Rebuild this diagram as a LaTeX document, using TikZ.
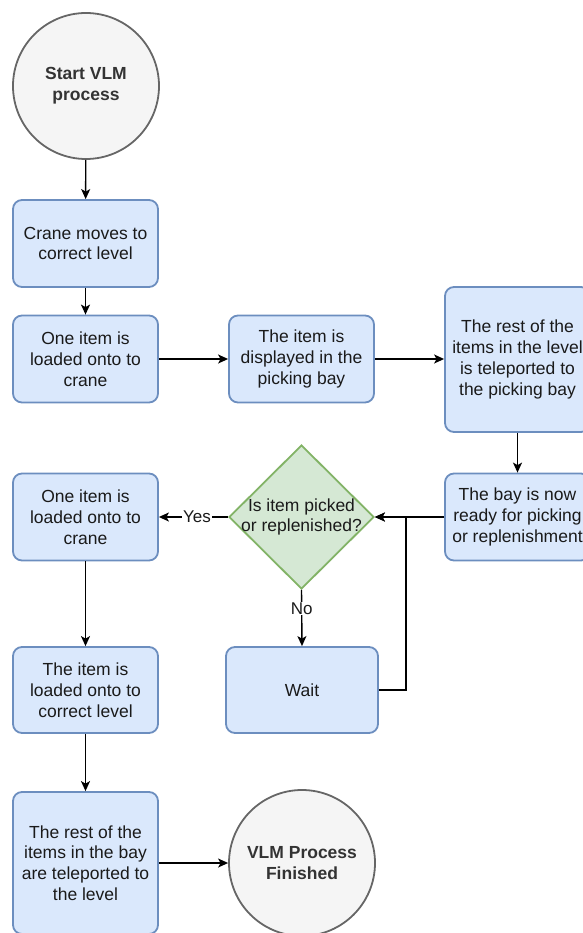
\documentclass[tikz,border=0pt]{standalone}
\usepackage{fontspec}
\setmainfont{Liberation Sans}
\usetikzlibrary{arrows.meta,shapes.geometric,calc}
\definecolor{bfill}{HTML}{DAE8FC}
\definecolor{bline}{HTML}{6C8EBF}
\definecolor{gfill}{HTML}{D5E8D4}
\definecolor{gline}{HTML}{82B366}
\definecolor{cfill}{HTML}{F5F5F5}
\definecolor{cline}{HTML}{666666}
\definecolor{txt}{HTML}{1A1A1A}
\definecolor{ctxt}{HTML}{333333}
\tikzset{
  base/.style={font=\fontsize{17.5}{20.8}\selectfont, text=txt, align=center, inner sep=0pt},
  box/.style={base, draw=bline, fill=bfill, line width=1.8pt, rounded corners=9pt,
              minimum width=145pt, minimum height=87pt},
  term/.style={base, circle, draw=cline, fill=cfill, line width=1.8pt,
              minimum size=146pt, font=\fontsize{17.5}{20.8}\selectfont\bfseries, text=ctxt},
  decision/.style={diamond, draw=gline, fill=gfill, line width=1.8pt, inner sep=0pt,
              minimum width=145pt, minimum height=144pt},
  arr/.style={draw=black, line width=1.4pt, -{Stealth[length=10pt,width=9pt,inset=2.5pt]}},
  lbl/.style={base, fill=white, inner sep=1pt, font=\fontsize{17}{20}\selectfont}
}
\begin{document}
\begin{tikzpicture}[x=1pt,y=-1pt]
\useasboundingbox (0,0) rectangle (582,933);
\node[term] (start) at (86,86) {Start VLM\\process};
\node[box] (crane) at (85.5,243.5) {Crane moves to\\correct level};
\node[box] (load1) at (85.5,359) {One item is\\loaded onto to\\crane};
\node[box] (disp) at (301.5,359) {The item is\\displayed in the\\picking bay};
\node[box, minimum height=145pt] (rest) at (517.5,359.5) {The rest of the\\items in the level\\is teleported to\\the picking bay};
\node[box] (bay) at (517.5,517) {The bay is now\\ready for picking\\or replenishment};
\node[decision] (dec) at (301.5,517) {};
\node[base] (dectxt) at (dec.center) {Is item picked\\or replenished?};
\node[box] (load2) at (85.5,517) {One item is\\loaded onto to\\crane};
\node[box, minimum width=152pt, minimum height=86pt] (wait) at (302,690) {Wait};
\node[box, minimum height=86pt] (load3) at (85.5,690) {The item is\\loaded onto to\\correct level};
\node[box, minimum height=142pt] (restbay) at (85.5,863) {The rest of the\\items in the bay\\are teleported to\\the level};
\node[term] (finish) at (302,863) {VLM Process\\Finished};
\coordinate (jn) at (406,517);

\draw[arr] (start) -- (crane);
\draw[arr] (crane) -- (load1);
\draw[arr] (load1) -- (disp);
\draw[arr] (disp) -- (rest.west |- disp.east);
\draw[arr] (rest) -- (bay);
\draw[arr] (bay.west) -- (dec.east);
\draw[arr] (wait.east) -| (jn) -- (dec.east);
\draw[arr] (dec.west) -- node[lbl, pos=0.45] (yes) {Yes} (load2.east);
\draw[arr] (dec.south) -- node[lbl, pos=0.33] (no) {No} (wait.north);
\draw[arr] (load2) -- (load3);
\draw[arr] (load3) -- (restbay);
\draw[arr] (restbay) -- (finish);
\end{tikzpicture}
\end{document}
